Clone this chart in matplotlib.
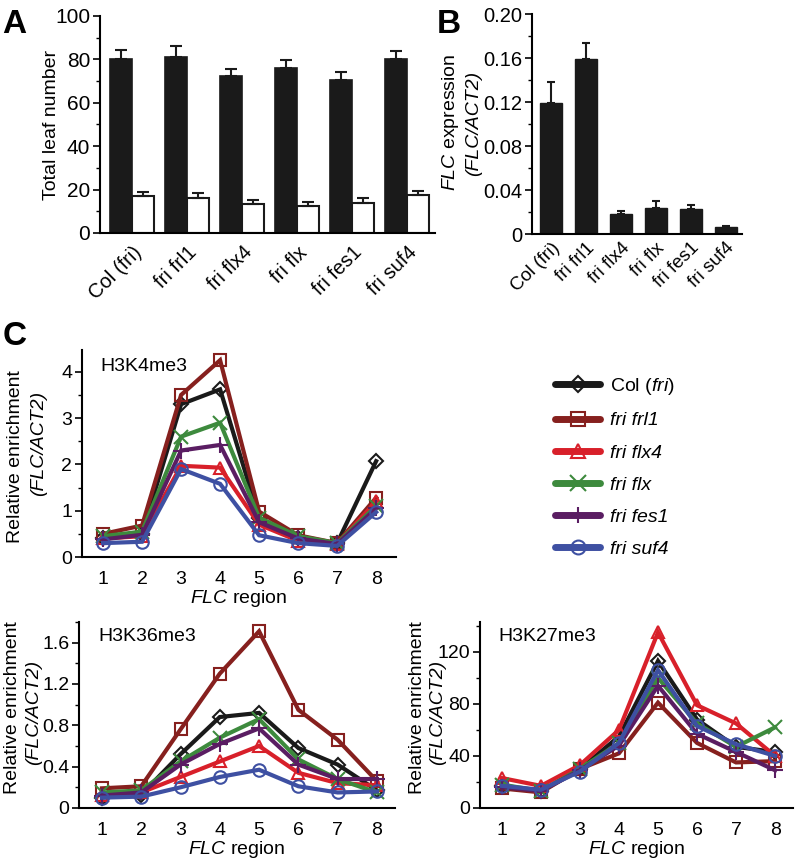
import numpy as np
import matplotlib
matplotlib.use('Agg')
import matplotlib.pyplot as plt
from matplotlib.ticker import MultipleLocator
from matplotlib.lines import Line2D

plt.rcParams['font.family'] = ['Liberation Sans', 'DejaVu Sans']
plt.rcParams['mathtext.fontset'] = 'custom'
plt.rcParams['mathtext.rm'] = 'Liberation Sans'
plt.rcParams['mathtext.it'] = 'Liberation Sans:italic'
plt.rcParams['font.size'] = 12

# ---- data ----
genotypes = ['Col (fri)', 'fri frl1', 'fri flx4', 'fri flx', 'fri fes1', 'fri suf4']

# panel A: total leaf number (black = one condition, white = other)
leaf_black = [80, 81, 72.5, 76, 70.5, 80]
leaf_black_err = [4.5, 5, 3, 3.5, 3.5, 4]
leaf_white = [17, 16, 13.5, 12.5, 14, 17.5]
leaf_white_err = [1.7, 2.2, 1.5, 1.7, 2, 1.7]

# panel B: FLC expression
flc_expr = [0.119, 0.159, 0.018, 0.024, 0.023, 0.006]
flc_err = [0.019, 0.015, 0.003, 0.006, 0.003, 0.001]

regions = [1, 2, 3, 4, 5, 6, 7, 8]

h3k4 = {
    'Col (fri)': [0.4, 0.5, 3.3, 3.62, 0.85, 0.42, 0.3, 2.07],
    'fri frl1': [0.5, 0.68, 3.5, 4.25, 0.98, 0.47, 0.3, 1.28],
    'fri flx4': [0.4, 0.45, 1.97, 1.93, 0.7, 0.35, 0.28, 1.2],
    'fri flx': [0.45, 0.55, 2.6, 2.9, 0.85, 0.45, 0.3, 1.1],
    'fri fes1': [0.38, 0.48, 2.3, 2.42, 0.75, 0.4, 0.28, 1.05],
    'fri suf4': [0.3, 0.33, 1.9, 1.58, 0.47, 0.3, 0.24, 0.97],
}
h3k36 = {
    'Col (fri)': [0.1, 0.13, 0.52, 0.88, 0.92, 0.58, 0.42, 0.17],
    'fri frl1': [0.19, 0.21, 0.76, 1.3, 1.71, 0.95, 0.66, 0.26],
    'fri flx4': [0.13, 0.15, 0.3, 0.45, 0.6, 0.34, 0.24, 0.22],
    'fri flx': [0.15, 0.17, 0.45, 0.68, 0.86, 0.47, 0.28, 0.15],
    'fri fes1': [0.12, 0.15, 0.42, 0.62, 0.77, 0.42, 0.28, 0.28],
    'fri suf4': [0.1, 0.11, 0.2, 0.3, 0.37, 0.21, 0.15, 0.16],
}
h3k27 = {
    'Col (fri)': [17, 13, 30, 55, 113, 68, 47, 43],
    'fri frl1': [15, 12, 30, 42, 81, 50, 35, 36],
    'fri flx4': [23, 17, 33, 60, 135, 79, 65, 40],
    'fri flx': [18, 13, 30, 50, 100, 65, 47, 62],
    'fri fes1': [16, 13, 29, 48, 94, 57, 43, 29],
    'fri suf4': [17, 14, 28, 50, 106, 63, 49, 40],
}

colors = {'Col (fri)': '#1a1a1a', 'fri frl1': '#86201e', 'fri flx4': '#d8202a',
          'fri flx': '#3d8a3d', 'fri fes1': '#5a1d62', 'fri suf4': '#3e50a2'}
markers = {'Col (fri)': 'D', 'fri frl1': 's', 'fri flx4': '^',
           'fri flx': 'x', 'fri fes1': '+', 'fri suf4': 'o'}
msizes = {'Col (fri)': 7, 'fri frl1': 9, 'fri flx4': 9, 'fri flx': 10, 'fri fes1': 11, 'fri suf4': 9}

fig = plt.figure(figsize=(7.97, 8.60), dpi=100)


def style(ax):
    ax.spines['top'].set_visible(False)
    ax.spines['right'].set_visible(False)
    ax.spines['left'].set_linewidth(1.5)
    ax.spines['bottom'].set_linewidth(1.5)
    ax.tick_params(axis='y', which='major', length=5, width=1.2, pad=2)
    ax.tick_params(axis='y', which='minor', length=3, width=1.0)


# ---- panel A ----
axA = fig.add_axes([0.1255, 0.7291, 0.4203, 0.2523])
x = np.arange(len(genotypes))
w = 0.4
axA.bar(x - w / 2, leaf_black, w, color='#1a1a1a', edgecolor='#1a1a1a', linewidth=1.2)
axA.bar(x + w / 2, leaf_white, w, color='white', edgecolor='#1a1a1a', linewidth=1.5)
axA.errorbar(x - w / 2, leaf_black, yerr=[np.zeros(6), leaf_black_err], fmt='none',
             ecolor='#1a1a1a', elinewidth=1.5, capsize=4, capthick=1.5)
axA.errorbar(x + w / 2, leaf_white, yerr=[np.zeros(6), leaf_white_err], fmt='none',
             ecolor='#1a1a1a', elinewidth=1.5, capsize=4, capthick=1.5)
axA.set_xlim(-0.58, 5.5)
axA.set_ylim(0, 100)
axA.yaxis.set_major_locator(MultipleLocator(20))
axA.yaxis.set_minor_locator(MultipleLocator(10))
axA.set_xticks(x)
axA.set_xticklabels(genotypes, rotation=45, ha='right', rotation_mode='anchor', fontsize=14.5)
axA.tick_params(axis='x', length=0, pad=7)
style(axA)
axA.tick_params(axis='y', labelsize=15)
fig.text(52 / 797, 1 - 125 / 860, 'Total leaf number', rotation=90,
         ha='center', va='center', fontsize=14)

# ---- panel B ----
axB = fig.add_axes([0.6675, 0.7279, 0.2635, 0.2558])
axB.bar(x, flc_expr, 0.63, color='#1a1a1a', edgecolor='#1a1a1a')
axB.errorbar(x, flc_expr, yerr=[np.zeros(6), flc_err], fmt='none',
             ecolor='#1a1a1a', elinewidth=1.5, capsize=3, capthick=1.5)
axB.set_xlim(-0.54, 5.46)
axB.set_ylim(0, 0.2)
axB.yaxis.set_minor_locator(MultipleLocator(0.02))
axB.set_yticks([0, 0.04, 0.08, 0.12, 0.16, 0.20])
axB.set_yticklabels(['0', '0.04', '0.08', '0.12', '0.16', '0.20'])
axB.set_xticks(x)
axB.set_xticklabels(genotypes, rotation=45, ha='right', rotation_mode='anchor', fontsize=13.5)
axB.tick_params(axis='x', length=0, pad=4)
style(axB)
axB.tick_params(axis='y', labelsize=14.5)
fig.text(451 / 797, 1 - 122 / 860, '$\\mathit{FLC}$ expression', rotation=90,
         ha='center', va='center', fontsize=14)
fig.text(474 / 797, 1 - 123 / 860, '(FLC/ACT2)', rotation=90, style='italic',
         ha='center', va='center', fontsize=14)


# ---- panel C ----
def line_panel(rect, data, xlim, ylim, major, minor, ticklabels, title, ylab_pos):
    ax = fig.add_axes(rect)
    for g in genotypes:
        ax.plot(regions, data[g], color=colors[g], marker=markers[g], ms=msizes[g],
                mfc='none', mew=1.5, lw=3, solid_joinstyle='miter')
    ax.set_xlim(*xlim)
    ax.set_ylim(*ylim)
    ax.set_xticks(regions)
    ax.yaxis.set_major_locator(MultipleLocator(major))
    ax.yaxis.set_minor_locator(MultipleLocator(minor))
    if ticklabels is not None:
        ax.set_yticks(ticklabels[0])
        ax.set_yticklabels(ticklabels[1])
    style(ax)
    ax.tick_params(axis='y', labelsize=14)
    ax.tick_params(axis='x', length=0, labelsize=14, pad=10)
    ax.set_xlabel('$\\mathit{FLC}$ region', fontsize=14, labelpad=0)
    ax.text(0.06, 0.92, title, transform=ax.transAxes, fontsize=14, ha='left', va='center')
    (x1, y1), (x2, y2) = ylab_pos
    fig.text(x1 / 797, 1 - y1 / 860, 'Relative enrichment', rotation=90,
             ha='center', va='center', fontsize=14)
    fig.text(x2 / 797, 1 - y2 / 860, '(FLC/ACT2)', rotation=90, style='italic',
             ha='center', va='center', fontsize=14)
    return ax


axC1 = line_panel([0.1029, 0.3523, 0.394, 0.2407], h3k4, (0.46, 8.51), (0, 4.47),
                  1, 0.5, None, 'H3K4me3', ((16, 457), (39, 443)))
axC2 = line_panel([0.0991, 0.0605, 0.3965, 0.2163], h3k36, (0.415, 8.46), (0, 1.80),
                  0.4, 0.2, ([0, 0.4, 0.8, 1.2, 1.6], ['0', '0.4', '0.8', '1.2', '1.6']),
                  'H3K36me3', ((13, 708), (34, 712)))
axC3 = line_panel([0.6023, 0.0605, 0.3927, 0.2163], h3k27, (0.44, 8.46), (0, 143),
                  40, 20, None, 'H3K27me3', ((418, 708), (438, 712)))

# legend
handles = [Line2D([0], [0], color=colors[g], marker=markers[g], ms=msizes[g] + 1,
                  mfc='none', mew=1.5, lw=5, solid_capstyle='round') for g in genotypes]
leg = fig.legend(handles, ['Col $\\mathit{(fri)}$'] + genotypes[1:], loc='upper left',
                 bbox_to_anchor=(0.675, 0.583), frameon=False, fontsize=14,
                 handlelength=2.3, labelspacing=0.75, handletextpad=0.5)
for t in leg.get_texts()[1:]:
    t.set_fontstyle('italic')

# panel letters
fig.text(0.003, 0.99, 'A', fontsize=24, fontweight='bold', va='top', ha='left')
fig.text(0.548, 0.99, 'B', fontsize=24, fontweight='bold', va='top', ha='left')
fig.text(0.003, 0.627, 'C', fontsize=24, fontweight='bold', va='top', ha='left')

fig.savefig('out.png', dpi=100)
